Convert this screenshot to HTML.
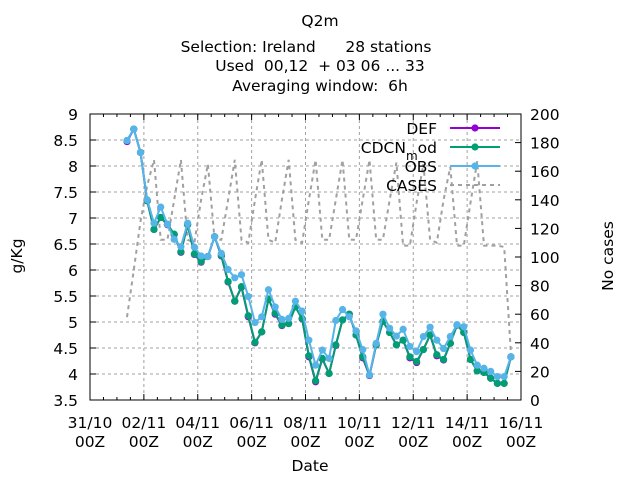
<!DOCTYPE html>
<html><head><meta charset="utf-8"><style>
html,body{margin:0;padding:0;background:#fff}
svg{display:block;font-family:"DejaVu Sans","Liberation Sans",sans-serif}
</style></head><body>
<svg id="chart" width="640" height="480" viewBox="0 0 640 480" xmlns="http://www.w3.org/2000/svg">
<g font-size="15.5" text-anchor="middle" fill="#000">
<text x="320" y="26">Q2m</text>
<text x="306" y="52" xml:space="preserve">Selection: Ireland      28 stations</text>
<text x="320" y="71" xml:space="preserve">Used  00,12  + 03 06 ... 33</text>
<text x="320" y="91" xml:space="preserve">Averaging window:  6h</text>
</g>
<text font-size="15.5" text-anchor="middle" transform="translate(22,256) rotate(-90)">g/Kg</text>
<text font-size="15.5" text-anchor="middle" transform="translate(613,256) rotate(-90)">No cases</text>
<text font-size="15.5" text-anchor="middle" x="310" y="471">Date</text>
<g id="grid"></g>
<g id="axes"></g>
<g id="series"></g>
<g id="legend"></g>
</svg>
<script>
const xTickLabels = ["31/10","02/11","04/11","06/11","08/11","10/11","12/11","14/11","16/11"];
const yTicks = [3.5,4,4.5,5,5.5,6,6.5,7,7.5,8,8.5,9];
const y2Ticks = [0,20,40,60,80,100,120,140,160,180,200];
const startHour = 33;
const stepHour = 6;
const obs = [8.49,8.71,8.26,7.35,6.90,7.21,6.88,6.59,6.45,6.90,6.44,6.27,6.26,6.64,6.32,6.01,5.85,5.91,5.49,4.99,5.10,5.62,5.29,5.05,5.07,5.40,5.21,4.65,4.17,4.46,4.30,5.03,5.24,5.10,4.83,4.47,3.98,4.59,5.15,4.88,4.73,4.86,4.53,4.43,4.72,4.90,4.65,4.49,4.72,4.95,4.91,4.46,4.17,4.11,4.05,3.95,3.95,4.33];
const cdcn = [8.49,8.71,8.26,7.33,6.78,7.01,6.88,6.69,6.35,6.87,6.31,6.16,6.26,6.64,6.28,5.78,5.40,5.68,5.12,4.61,4.81,5.44,5.17,4.94,4.97,5.29,5.07,4.35,3.87,4.30,4.01,4.56,5.04,5.15,4.75,4.33,3.98,4.56,5.01,4.80,4.56,4.65,4.33,4.24,4.47,4.75,4.37,4.28,4.59,4.94,4.80,4.28,4.06,4.03,3.92,3.82,3.82,4.33];
const def = [8.47,8.71,8.26,7.33,6.78,7.01,6.87,6.68,6.34,6.87,6.30,6.15,6.26,6.64,6.27,5.77,5.40,5.67,5.10,4.60,4.81,5.44,5.15,4.93,4.97,5.29,5.06,4.33,3.85,4.29,4.01,4.55,5.04,5.15,4.75,4.31,3.97,4.56,5.01,4.80,4.56,4.65,4.31,4.22,4.47,4.75,4.35,4.27,4.59,4.94,4.80,4.28,4.06,4.03,3.92,3.82,3.82,4.33];
const cases = [58,91,125,150,168,112,112,140,168,112,110,140,165,112,112,140,168,112,110,140,168,112,110,140,168,112,110,140,168,112,112,140,168,112,112,140,168,112,112,140,166,108,108,138,165,112,110,140,163,108,108,138,167,108,108,108,107,33];

const NS="http://www.w3.org/2000/svg";
const L=90,R=521,T=114,B=400;
const FS=15.5;
const pxPerHour=(R-L)/(16*24);
const X=h=>L+h*pxPerHour;
const Y=v=>B-(v-3.5)/5.5*(B-T);
const Y2=v=>B-v/200*(B-T);
function mk(tag,attrs,parent){const e=document.createElementNS(NS,tag);for(const k in attrs)e.setAttribute(k,attrs[k]);parent.appendChild(e);return e;}
const grid=document.getElementById('grid'),axes=document.getElementById('axes'),series=document.getElementById('series'),legend=document.getElementById('legend');

xTickLabels.forEach((lab,i)=>{
  const x=X(i*48);
  if(i>0&&i<xTickLabels.length-1){const g=mk('line',{x1:x,y1:T,x2:x,y2:B,stroke:'#a0a0a0','stroke-dasharray':'3,3','stroke-width':1},grid);
  
  }
  const t=mk('text',{x:x,y:B+28,'font-size':FS,'text-anchor':'middle'},axes);
  t.textContent=lab;
  
  
  const t2=mk('text',{x:x,y:B+47,'font-size':FS,'text-anchor':'middle'},axes);
  t2.textContent='00Z';
  
  
});
for(let h=0;h<=384;h+=12){const x=X(h);const len=(h%48===0)?6:3;
  mk('line',{x1:x,y1:B,x2:x,y2:B-len,stroke:'#000'},axes);
  mk('line',{x1:x,y1:T,x2:x,y2:T+len,stroke:'#000'},axes);}
yTicks.forEach(v=>{const y=Y(v);
  if(v>3.5&&v<9){const g=mk('line',{x1:L,y1:y,x2:R,y2:y,stroke:'#a0a0a0','stroke-dasharray':'3,3'},grid);
  
  }
  mk('line',{x1:L,y1:y,x2:L+6,y2:y,stroke:'#000'},axes);
  const t=mk('text',{x:L-12,y:y+6,'font-size':FS,'text-anchor':'end'},axes);
  t.textContent=String(v);
  
  
});
y2Ticks.forEach(v=>{const y=Y2(v);
  mk('line',{x1:R,y1:y,x2:R-6,y2:y,stroke:'#000'},axes);
  const t=mk('text',{x:R+9,y:y+6,'font-size':FS,'text-anchor':'start'},axes);
  t.textContent=String(v);
  
  
});
const frame=mk('rect',{x:L,y:T,width:R-L,height:B-T,fill:'none',stroke:'#000','stroke-width':1},axes);



const cp=cases.map((v,i)=>X(startHour+i*stepHour).toFixed(1)+','+Y2(v).toFixed(1)).join(' ');
const cl=mk('polyline',{points:cp,fill:'none',stroke:'#a0a0a0','stroke-width':2,'stroke-dasharray':'4,4'},series);



function drawSeries(data,color,name){
  const pts=data.map((v,i)=>X(startHour+i*stepHour).toFixed(1)+','+Y(v).toFixed(1)).join(' ');
  const pl=mk('polyline',{points:pts,fill:'none',stroke:color,'stroke-width':2},series);
  
  
  data.forEach((v,i)=>{
    const c=mk('circle',{cx:X(startHour+i*stepHour),cy:Y(v),r:3.6,fill:color},series);
    
    
  });
}
drawSeries(def,'#9400d3','def');
drawSeries(cdcn,'#009e73','cdcn-mod');
drawSeries(obs,'#56b4e9','obs');

const leg=[['DEF','#9400d3',128,false],['CDCN','#009e73',147,false],['OBS','#56b4e9',166,false],['CASES','#a0a0a0',185,true]];
leg.forEach(([lab,col,y,dash])=>{
  const t=mk('text',{x:437,y:y+6,'font-size':FS,'text-anchor':'end'},legend);
  if(lab==='CDCN'){t.textContent='CDCN';const s1=mk('tspan',{dy:7,'font-size':12},t);s1.textContent='m';const s2=mk('tspan',{dy:-7},t);s2.textContent='od';}
  else t.textContent=lab;
  
  
  const ln=mk('line',{x1:450,y1:y,x2:500,y2:y,stroke:col,'stroke-width':2},legend);
  if(dash)ln.setAttribute('stroke-dasharray','4,4');
  
  
  if(!dash){const c=mk('circle',{cx:475,cy:y,r:3.6,fill:col},legend);
  
  }
});
</script>
</body></html>
